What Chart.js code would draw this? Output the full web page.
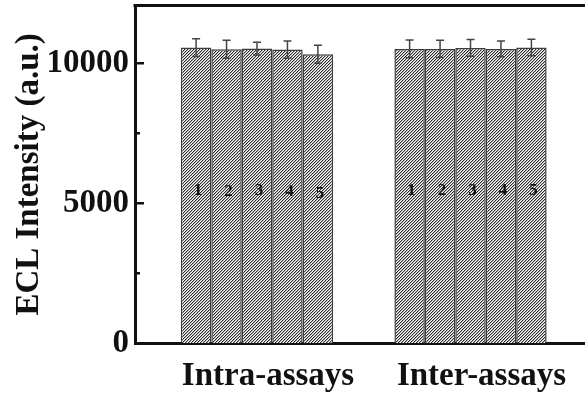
<!DOCTYPE html>
<html>
<head>
<meta charset="utf-8">
<script src="https://cdn.jsdelivr.net/npm/chart.js@4.4.1/dist/chart.umd.min.js"></script>
<style>
  html, body { margin: 0; padding: 0; background: #fff; overflow: hidden; }
  #wrap { width: 600px; height: 396px; }
</style>
</head>
<body>
<div id="wrap"><canvas id="eclChart" width="600" height="396"></canvas></div>
<script>
const groups = ['Intra-assays', 'Inter-assays'];
const barLabels = ['1', '2', '3', '4', '5'];
const intraValues = [10557, 10500, 10521, 10486, 10321];
const intraErrors = [320, 320, 230, 310, 320];
const interValues = [10511, 10511, 10546, 10511, 10557];
const interErrors = [315, 305, 300, 280, 295];
const yTicks = [0, 5000, 10000];
const yMinorTicks = [2500, 7500];

const serif = "'Liberation Serif', 'Times New Roman', serif";

// diagonal hatch fill like the original figure
function makeHatch() {
    const c = document.createElement('canvas');
    c.width = 3; c.height = 3;
    const g = c.getContext('2d');
    g.fillStyle = '#ffffff';
    g.fillRect(0, 0, 3, 3);
    for (let y = 0; y < 3; y++) {
        g.fillStyle = '#2b2b2b';
        g.fillRect(2 - y, y, 1, 1);
        g.fillStyle = '#b0b0b0';
        g.fillRect((3 - y) % 3, y, 1, 1);
    }
    return g.createPattern(c, 'repeat');
}
const hatch = makeHatch();

const datasets = barLabels.map((lab, i) => ({
    label: lab,
    data: [{x: 1, y: intraValues[i]}, {x: 2, y: interValues[i]}],
    errors: [intraErrors[i], interErrors[i]],
    backgroundColor: hatch,
    borderColor: '#3c3c3c',
    borderWidth: 1.5,
    categoryPercentage: 0.713,
    barPercentage: 1
}));

// error bars, bar numbers, inward ticks and top frame line
const extras = {
    id: 'extras',
    afterDatasetsDraw(chart) {
        const ctx = chart.ctx;
        const y = chart.scales.y;
        const area = chart.chartArea;
        ctx.save();
        chart.data.datasets.forEach((ds, i) => {
            const meta = chart.getDatasetMeta(i);
            meta.data.forEach((bar, j) => {
                const v = ds.data[j].y, e = ds.errors[j];
                const yt = y.getPixelForValue(v + e);
                const yb = y.getPixelForValue(v - e);
                ctx.strokeStyle = '#444';
                ctx.lineWidth = 1.5;
                ctx.beginPath();
                ctx.moveTo(bar.x, yt); ctx.lineTo(bar.x, yb);
                ctx.moveTo(bar.x - 4, yt); ctx.lineTo(bar.x + 4, yt);
                ctx.moveTo(bar.x - 4, yb); ctx.lineTo(bar.x + 4, yb);
                ctx.stroke();

                ctx.fillStyle = '#111';
                ctx.font = 'bold 17px ' + serif;
                ctx.textAlign = 'center';
                ctx.textBaseline = 'middle';
                ctx.fillText(ds.label, bar.x + 2, (bar.y + bar.base) / 2 - 5);
            });
        });

        ctx.strokeStyle = '#111';
        ctx.lineWidth = 2.5;
        ctx.beginPath();
        yTicks.forEach(t => {
            const p = y.getPixelForValue(t);
            ctx.moveTo(area.left, p); ctx.lineTo(area.left + 9, p);
        });
        yMinorTicks.forEach(t => {
            const p = y.getPixelForValue(t);
            ctx.moveTo(area.left, p); ctx.lineTo(area.left + 5, p);
        });
        ctx.stroke();

        ctx.lineWidth = 3;
        ctx.beginPath();
        ctx.moveTo(area.left - 1.5, area.top);
        ctx.lineTo(chart.width, area.top);
        ctx.stroke();
        ctx.restore();
    }
};

const ctx = document.getElementById('eclChart').getContext('2d');
const eclChart = new Chart(ctx, {
    type: 'bar',
    data: { datasets: datasets },
    options: {
        responsive: false,
        animation: false,
        devicePixelRatio: 1,
        layout: { padding: { top: 5.5, right: 8, left: 0, bottom: 0 } },
        plugins: { legend: { display: false }, tooltip: { enabled: false } },
        scales: {
            x: {
                type: 'linear',
                min: 0.4286,
                max: 2.569,
                offset: false,
                grid: { display: false, drawTicks: false, offset: false },
                border: { display: true, width: 3, color: '#111' },
                afterBuildTicks: scale => { scale.ticks = groups.map((g, i) => ({ value: i + 1 })); },
                afterFit: scale => {
                    scale.height = 52.7;
                    scale.paddingLeft = 0; scale.paddingRight = 0;
                },
                ticks: {
                    callback: v => groups[v - 1],
                    autoSkip: false,
                    maxRotation: 0,
                    labelOffset: 11,
                    padding: 13,
                    color: '#111',
                    font: { family: serif, size: 33, weight: 'bold' }
                }
            },
            y: {
                min: 0,
                max: 12060,
                grid: { display: false, drawTicks: false },
                border: { display: true, width: 3, color: '#111' },
                afterBuildTicks: scale => { scale.ticks = yTicks.map(v => ({ value: v })); },
                afterFit: scale => {
                    scale.width = 135;
                    scale.paddingTop = 0; scale.paddingBottom = 0;
                },
                ticks: {
                    callback: v => String(v),
                    padding: 6,
                    color: '#111',
                    font: { family: serif, size: 33, weight: 'bold' }
                },
                title: {
                    display: true,
                    text: 'ECL Intensity (a.u.)',
                    color: '#111',
                    padding: { top: 10, bottom: 0 },
                    font: { family: serif, size: 33, weight: 'bold' }
                }
            }
        }
    },
    plugins: [extras]
});
</script>
</body>
</html>
